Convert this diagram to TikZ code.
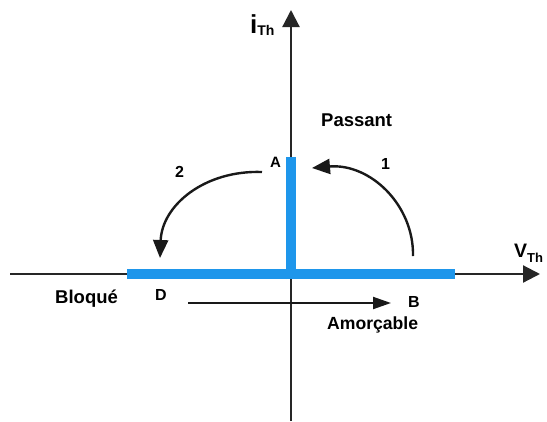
\documentclass[tikz,border=0pt]{standalone}
\usepackage{fontspec}
\setmainfont{Liberation Sans}
\usetikzlibrary{arrows.meta}
\definecolor{thblue}{RGB}{30,150,235}
\tikzset{
  axisline/.style={line width=2.2pt, draw=black!85, -{Triangle[length=17pt,width=17pt]}},
  bluebar/.style={line width=10pt, draw=thblue, line cap=butt},
  turnarrow/.style={line width=2.4pt, draw=black!90, -{Triangle[length=18pt,width=15pt]}},
  flatarrow/.style={line width=2pt, draw=black!90, -{Triangle[length=18pt,width=12pt]}},
  lbl/.style={inner sep=0pt, anchor=base west, font=\bfseries\fontsize{18.5}{20}\selectfont},
  pt/.style={inner sep=0pt, anchor=base west, font=\bfseries\fontsize{16}{18}\selectfont},
}
\begin{document}
\begin{tikzpicture}[x=1pt,y=-1pt]
\useasboundingbox[fill=white] (0,0) rectangle (547,421);
% coordinates
\coordinate (vbot) at (291,421);
\coordinate (vtop) at (291,10);
\coordinate (hleft) at (10,274);
\coordinate (hright) at (540,274);
\coordinate (bl) at (127,274);
\coordinate (br) at (455,274);
\coordinate (origin) at (291,279);
\coordinate (atop) at (291,157);
\coordinate (a1s) at (413,256);
\coordinate (a1e) at (312,168);
\coordinate (a2s) at (262,172);
\coordinate (a2e) at (160,258);
\coordinate (ds) at (188,303);
\coordinate (de) at (391,303);
% axes
\draw[axisline] (vbot) -- (vtop);
\draw[axisline] (hleft) -- (hright);
% blue characteristic
\draw[bluebar] (bl) -- (br);
\draw[bluebar] (origin) -- (atop);
% arrows
\draw[turnarrow] (a1s) .. controls (414,205) and (370,163) .. (a1e);
\draw[turnarrow] (a2s) .. controls (205,170) and (162,205) .. (a2e);
\draw[flatarrow] (ds) -- (de);
% labels
\node[inner sep=0pt, anchor=base west] (ith) at (250,33)
  {\bfseries\fontsize{26}{26}\selectfont i\fontsize{14}{14}\selectfont\raisebox{-2pt}{Th}};
\node[inner sep=0pt, anchor=base west] (vth) at (514,257)
  {\bfseries\fontsize{19.5}{20}\selectfont V\fontsize{13}{13}\selectfont\raisebox{-5pt}{Th}};
\node[lbl] (passant) at (321,126) {Passant};
\node[pt, font=\bfseries\fontsize{15}{17}\selectfont] (A) at (270,167) {A};
\node[pt] (one) at (381,169) {1};
\node[pt] (two) at (175,177) {2};
\node[lbl] (bloque) at (55,303) {Bloqué};
\node[pt] (D) at (155,300) {D};
\node[pt] (B) at (408,307) {B};
\node[lbl, font=\bfseries\fontsize{17.6}{19}\selectfont] (amorcable) at (327,329) {Amorçable};
\end{tikzpicture}
\end{document}
